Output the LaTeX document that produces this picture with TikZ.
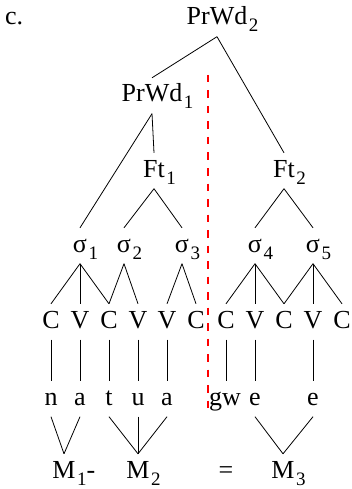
\documentclass[tikz,border=0pt]{standalone}
\usepackage{fontspec}
\setmainfont{Liberation Serif}
\newcommand\sbs[1]{\kern1.5pt\raisebox{-7pt}{\fontsize{19}{19}\selectfont #1}}
\begin{document}
\begin{tikzpicture}[x=1pt,y=-1pt,
  lab/.style={inner sep=0pt, text height=24pt, text depth=11.5pt, anchor=base, font=\fontsize{26}{30}\selectfont},
  br/.style={draw=black, line width=0.8pt},
  cut/.style={draw=red, line width=1.8pt, dash pattern=on 7.5pt off 8pt}]
\useasboundingbox (0,0) rectangle (351,489);
\node[lab, anchor=base west] (ex) at (5,25) {c.};
% prosodic words and feet
\node[lab] (pw2) at (217,25) {PrWd\rlap{\sbs{2}}};
\node[lab] (pw1) at (152,102) {PrWd\rlap{\sbs{1}}};
\node[lab] (ft1) at (154,177) {Ft\rlap{\sbs{1}}};
\node[lab] (ft2) at (284,177) {Ft\rlap{\sbs{2}}};
% syllables
\node[lab] (s1) at (80,252) {σ\rlap{\sbs{1}}};
\node[lab] (s2) at (124,252) {σ\rlap{\sbs{2}}};
\node[lab] (s3) at (182,252) {σ\rlap{\sbs{3}}};
\node[lab] (s4) at (255,252) {σ\rlap{\sbs{4}}};
\node[lab] (s5) at (313,252) {σ\rlap{\sbs{5}}};
% CV tier
\node[lab] (c1) at (51,328) {C};
\node[lab] (c2) at (80,328) {V};
\node[lab] (c3) at (109,328) {C};
\node[lab] (c4) at (138,328) {V};
\node[lab] (c5) at (167,328) {V};
\node[lab] (c6) at (196,328) {C};
\node[lab] (c7) at (226,328) {C};
\node[lab] (c8) at (255,328) {V};
\node[lab] (c9) at (284,328) {C};
\node[lab] (c10) at (313,328) {V};
\node[lab] (c11) at (342,328) {C};
% segments
\node[lab] (g1) at (51,405) {n};
\node[lab] (g2) at (80,405) {a};
\node[lab] (g3) at (109,405) {t};
\node[lab] (g4) at (138,405) {u};
\node[lab] (g5) at (167,405) {a};
\node[lab] (g6) at (225,405) {gw};
\node[lab] (g7) at (255,405) {e};
\node[lab] (g8) at (313,405) {e};
% morphemes
\node[lab] (m1) at (64,478) {M\rlap{\sbs{1}-}};
\node[lab] (m2) at (138,478) {M\rlap{\sbs{2}}};
\node[lab] (eq) at (226,478) {=};
\node[lab] (m3) at (283,478) {M\rlap{\sbs{3}}};
% tree branches
\draw[br] (pw2.south) -- (pw1.north);
\draw[br] (pw2.south) -- (ft2.north);
\draw[br] (pw1.south) -- (s1.north);
\draw[br] (pw1.south) -- (ft1.north);
\draw[br] (ft1.south) -- (s2.north);
\draw[br] (ft1.south) -- (s3.north);
\draw[br] (ft2.south) -- (s4.north);
\draw[br] (ft2.south) -- (s5.north);
\draw[br] (s1.south) -- (c1.north);
\draw[br] (s1.south) -- (c2.north);
\draw[br] (s1.south) -- (c3.north);
\draw[br] (s2.south) -- (c3.north);
\draw[br] (s2.south) -- (c4.north);
\draw[br] (s3.south) -- (c5.north);
\draw[br] (s3.south) -- (c6.north);
\draw[br] (s4.south) -- (c7.north);
\draw[br] (s4.south) -- (c8.north);
\draw[br] (s4.south) -- (c9.north);
\draw[br] (s5.south) -- (c9.north);
\draw[br] (s5.south) -- (c10.north);
\draw[br] (s5.south) -- (c11.north);
% association lines
\draw[br] (c1.south) -- (g1.north);
\draw[br] (c2.south) -- (g2.north);
\draw[br] (c3.south) -- (g3.north);
\draw[br] (c4.south) -- (g4.north);
\draw[br] (c5.south) -- (g5.north);
\draw[br] (c7.south) -- (c7.south |- g6.north);
\draw[br] (c8.south) -- (g7.north);
\draw[br] (c10.south) -- (g8.north);
% morphemes
\draw[br] (g1.south) -- (m1.north);
\draw[br] (g2.south) -- (m1.north);
\draw[br] (g3.south) -- (m2.north);
\draw[br] (g4.south) -- (m2.north);
\draw[br] (g5.south) -- (m2.north);
\draw[br] (g7.south) -- (m3.north);
\draw[br] (g8.south) -- (m3.north);
% boundary
\coordinate (cuttop) at (208,75);
\coordinate (cutbot) at (208,415);
\draw[cut] (cuttop) -- (cutbot);
\end{tikzpicture}
\end{document}
